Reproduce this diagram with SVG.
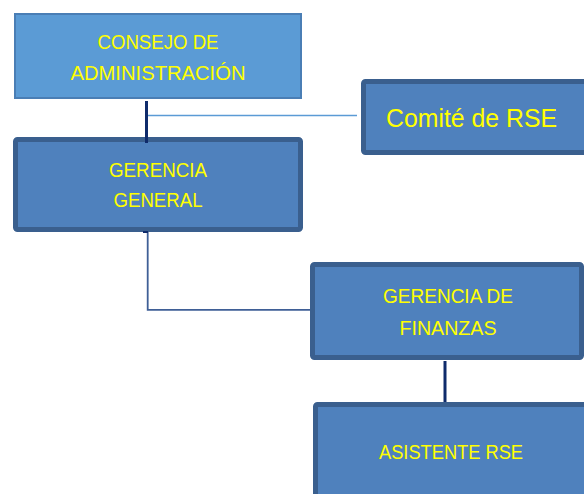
<svg xmlns="http://www.w3.org/2000/svg" width="584" height="494" viewBox="0 0 584 494">
<style>
.lbl{font-family:"Liberation Sans",Arial,sans-serif;font-size:21px;fill:#FFFF00;text-anchor:middle}
.big{font-size:26px}
.box{fill:#4F81BD;stroke:#3A5F8E;stroke-width:5}
.top{fill:#5B9BD5;stroke:#4A7EB5;stroke-width:2}
.dark{stroke:#0F2B6B;stroke-width:3;fill:none}
</style>
<rect width="584" height="494" fill="#FFFFFF"/>
<g id="consejo">
<rect class="top" x="15" y="14" width="286" height="84"/>
<text class="lbl" x="158" y="49" textLength="121" lengthAdjust="spacingAndGlyphs">CONSEJO DE</text>
<text class="lbl" x="158" y="80" textLength="175" lengthAdjust="spacingAndGlyphs">ADMINISTRACIÓN</text>
</g>
<g id="gerencia-general">
<rect class="box" x="15.5" y="139.5" width="285" height="90" rx="2"/>
<text class="lbl" x="158" y="177" textLength="98" lengthAdjust="spacingAndGlyphs">GERENCIA</text>
<text class="lbl" x="158" y="207" textLength="89" lengthAdjust="spacingAndGlyphs">GENERAL</text>
</g>
<g id="comite">
<rect class="box" x="363.5" y="81.5" width="240" height="71" rx="2"/>
<text class="lbl big" x="471.5" y="127" textLength="171" lengthAdjust="spacingAndGlyphs">Comité de RSE</text>
</g>
<g id="finanzas">
<rect class="box" x="312.5" y="264.5" width="269" height="93" rx="2"/>
<text class="lbl" x="448" y="303" textLength="130" lengthAdjust="spacingAndGlyphs">GERENCIA DE</text>
<text class="lbl" x="448" y="335" textLength="97" lengthAdjust="spacingAndGlyphs">FINANZAS</text>
</g>
<g id="asistente">
<rect class="box" x="315.5" y="404.5" width="300" height="120" rx="2"/>
<text class="lbl" x="451" y="459" textLength="144" lengthAdjust="spacingAndGlyphs">ASISTENTE RSE</text>
</g>
<g id="connectors">
<line class="dark" x1="146.5" y1="101" x2="146.5" y2="143"/>
<line x1="148" y1="115.5" x2="357" y2="115.5" stroke="#5B9BD5" stroke-width="1.3"/>
<path d="M147.7,232 V309.8 H310" fill="none" stroke="#3F5F96" stroke-width="1.8"/>
<path d="M143,232 H148" stroke="#0F2B6B" stroke-width="2"/>
<line class="dark" x1="445" y1="361" x2="445" y2="402"/>
</g>
</svg>
